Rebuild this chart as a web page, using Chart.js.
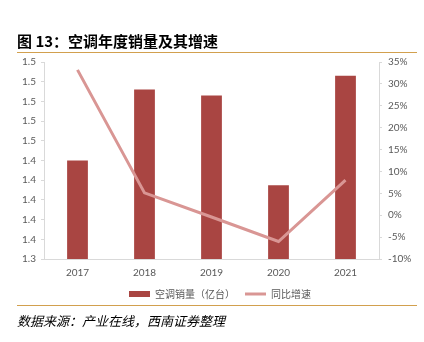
<!DOCTYPE html>
<html>
<head>
<meta charset="utf-8">
<script src="https://cdn.jsdelivr.net/npm/chart.js@4"></script>
<style>
  html, body { margin: 0; padding: 0; background: #fff; }
  #wrap { position: relative; width: 424px; height: 342px; overflow: hidden; }
  #c { position: absolute; left: 0; top: 0; }
  .title { position: absolute; left: 17px; top: 30px; font: bold 15px "Noto Sans CJK SC", sans-serif; color: #000; white-space: nowrap; }
  .rule { position: absolute; left: 17px; width: 400px; height: 1px; background: #D2A04E; }
  .src { position: absolute; left: 17px; top: 311px; font: italic 13px "Noto Sans CJK SC", sans-serif; color: #000; white-space: nowrap; }
</style>
</head>
<body>
<div id="wrap">
  <canvas id="c" width="424" height="342"></canvas>
  <div class="title">图 13：空调年度销量及其增速</div>
  <div class="rule" style="top:52px"></div>
  <div class="rule" style="top:305px"></div>
  <div class="src">数据来源：产业在线，西南证券整理</div>
</div>
<script>
const categories = ["2017", "2018", "2019", "2020", "2021"];
const salesValues = [1.44, 1.512, 1.506, 1.415, 1.526];   // 空调销量（亿台）
const growthValues = [33.2, 5.1, -0.4, -6.0, 8.0];        // 同比增速 (%)
const leftTicks = [1.34, 1.36, 1.38, 1.40, 1.42, 1.44, 1.46, 1.48, 1.50, 1.52, 1.54];
const rightTicks = [-10, -5, 0, 5, 10, 15, 20, 25, 30, 35];
const seriesNames = ["空调销量（亿台）", "同比增速"];

const tickFont = { family: "Lato, 'Liberation Sans', sans-serif", size: 10 };
const tickColor = "#595959";
const axisColor = "#D9D9D9";

new Chart(document.getElementById("c"), {
  data: {
    labels: categories,
    datasets: [
      {
        type: "bar",
        label: seriesNames[0],
        data: salesValues,
        backgroundColor: "#A94542",
        borderWidth: 0,
        yAxisID: "y",
        order: 1,
        barPercentage: 0.31,
        categoryPercentage: 1.0
      },
      {
        type: "line",
        label: seriesNames[1],
        data: growthValues,
        borderColor: "#D99694",
        backgroundColor: "#D99694",
        borderWidth: 3,
        pointRadius: 0,
        tension: 0,
        yAxisID: "y1",
        order: 0
      }
    ]
  },
  options: {
    responsive: false,
    animation: false,
    layout: { padding: { left: 16, right: 0, top: 62, bottom: 33 } },
    plugins: {
      tooltip: { enabled: false },
      legend: {
        position: "bottom",
        labels: {
          usePointStyle: true,
          pointStyleWidth: 21,
          boxHeight: 6,
          padding: 10,
          color: tickColor,
          font: { family: "'Noto Sans CJK SC', sans-serif", size: 10 },
          sort: (a, b) => a.datasetIndex - b.datasetIndex,
          generateLabels: (chart) => {
            const items = Chart.defaults.plugins.legend.labels.generateLabels(chart);
            items.forEach(it => {
              if (it.datasetIndex === 0) { it.pointStyle = "rect"; it.lineWidth = 0; it.fillStyle = "#A94542"; it.strokeStyle = "#A94542"; }
              else { it.pointStyle = "line"; it.lineWidth = 3; it.strokeStyle = "#D99694"; }
            });
            return items;
          }
        }
      }
    },
    scales: {
      x: {
        afterFit: (s) => { s.height = 20; },
        grid: { display: false, drawTicks: false },
        border: { display: true, color: axisColor, width: 1 },
        ticks: { color: tickColor, font: tickFont, padding: 8, maxRotation: 0 }
      },
      y: {
        position: "left",
        min: 1.34,
        max: 1.54,
        afterBuildTicks: (s) => { s.ticks = leftTicks.map(v => ({ value: v })); },
        afterFit: (s) => { s.width = 28; },
        grid: { drawOnChartArea: false, drawTicks: true, tickLength: 3, color: axisColor },
        border: { display: true, color: axisColor, width: 1 },
        ticks: { color: tickColor, font: tickFont, padding: 5, callback: (v) => Number(v).toFixed(1) }
      },
      y1: {
        position: "right",
        min: -10,
        max: 35,
        afterBuildTicks: (s) => { s.ticks = rightTicks.map(v => ({ value: v })); },
        afterFit: (s) => { s.width = 45; },
        grid: { drawOnChartArea: false, drawTicks: true, tickLength: 3, color: axisColor },
        border: { display: true, color: axisColor, width: 1 },
        ticks: { color: tickColor, font: tickFont, padding: 6, callback: (v) => v + "%" }
      }
    }
  }
});
</script>
</body>
</html>
